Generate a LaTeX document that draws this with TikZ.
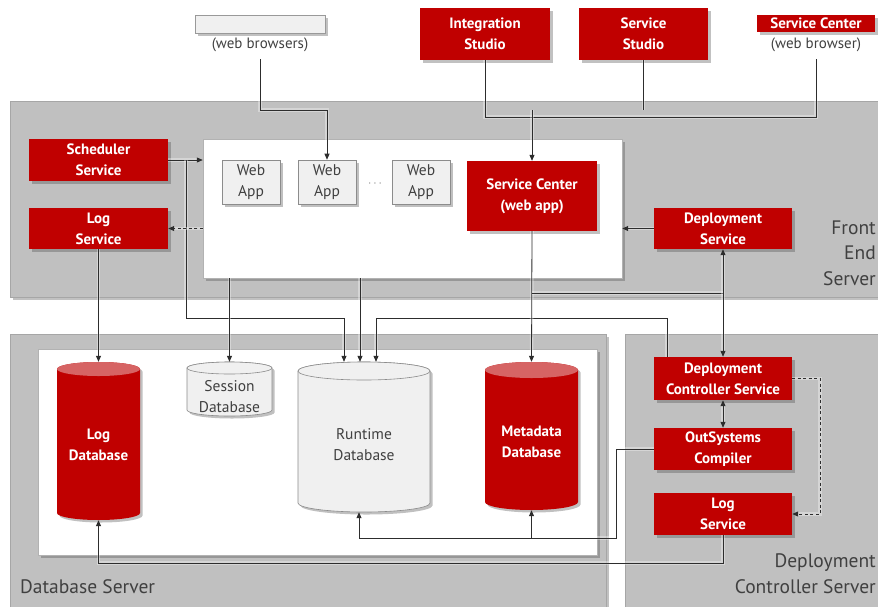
\documentclass[tikz,border=0pt]{standalone}
\usepackage{fontspec}
\setmainfont{PT Sans}
\usetikzlibrary{shadows,arrows.meta}
\definecolor{osred}{RGB}{192,0,0}
\definecolor{panelgray}{RGB}{192,192,192}
\definecolor{lightbox}{RGB}{240,240,240}
\definecolor{cyltop}{RGB}{214,100,100}
\definecolor{linecol}{RGB}{45,45,45}
\begin{document}
\begin{tikzpicture}[x=1pt,y=-1pt,
  shad/.style={drop shadow={shadow xshift=2.5pt,shadow yshift=-2.5pt,opacity=0.35,fill=black!70}},
  redfont/.style={font=\bfseries\fontsize{15}{21}\selectfont},
  redbox/.style={fill=osred,text=white,redfont,align=center,inner sep=0pt,shad},
  panel/.style={fill=panelgray,draw=black!35,line width=0.6pt,shad},
  whitebox/.style={fill=white,draw=black!30,line width=0.5pt,shad},
  graytext/.style={text=black!75,font=\fontsize{15.5}{21}\selectfont,align=center,inner sep=0pt},
  appbox/.style={fill=lightbox,draw=black!45,line width=0.6pt,shad,graytext,minimum width=58pt,minimum height=44pt},
  cylnode/.style={inner sep=0pt},
  cyltext/.style={inner sep=0pt,align=center},
  panellabel/.style={text=black!75,font=\fontsize{19.5}{25.5}\selectfont,inner sep=0pt},
  smalllabel/.style={text=black!75,font=\fontsize{15}{15}\selectfont,inner sep=0pt},
  conn/.style={draw=linecol,line width=0.8pt,preaction={draw=white,line width=3.5pt,opacity=0.35}},
  arr/.style={conn,-{Triangle[length=6pt,width=5pt]}},
  darr/.style={conn,{Triangle[length=6pt,width=5pt]}-{Triangle[length=6pt,width=5pt]}},
  dashy/.style={dashed,dash pattern=on 3pt off 2.5pt}
]
\useasboundingbox (0,0) rectangle (878,606);

% panels
\path[panel] (10,101) rectangle (884,297);
\path[panel] (10,334) rectangle (606,612);
\path[panel] (625,334) rectangle (884,612);
\path[whitebox] (203,139) rectangle (622,278);
\path[whitebox] (38,349) rectangle (597,555);
\node[inner sep=0pt,minimum width=419pt,minimum height=139pt] (febox) at (412.5,208.5) {};

% panel labels
\node[panellabel,anchor=east,align=right] (felabel) at (876,253) {Front\\End\\Server};
\node[panellabel,anchor=west] (dblabel) at (20,587) {Database Server};
\node[panellabel,anchor=east,align=right] (dclabel) at (876,573.5) {Deployment\\Controller Server};

% top clients
\node[fill=lightbox,draw=black!40,line width=0.6pt,shad,minimum width=130pt,minimum height=18pt,inner sep=0pt] (browsers) at (260,24) {};
\node[smalllabel] (wbl) at (260,45) {(web browsers)};
\node[redbox,minimum width=130pt,minimum height=52pt] (intst) at (485,34) {Integration\\Studio};
\node[redbox,minimum width=129pt,minimum height=52pt] (svst) at (643.5,34) {Service\\Studio};
\node[redbox,minimum width=118pt,minimum height=17pt] (scbrowser) at (816,23.5) {Service Center};
\node[smalllabel] (scbl) at (816,45) {(web browser)};

% front end nodes
\node[redbox,minimum width=139pt,minimum height=42pt] (sched) at (98.5,160) {Scheduler\\Service};
\node[redbox,minimum width=139pt,minimum height=41pt] (flog) at (98.5,228.5) {Log\\Service};
\node[appbox] (wa1) at (251,182) {Web\\App};
\node[appbox] (wa2) at (327,182) {Web\\App};
\node[appbox] (wa3) at (421,182) {Web\\App};
\node[text=black!50,inner sep=0pt,font=\fontsize{12}{12}\selectfont] (dots) at (375,184) {$\cdots$};
\node[redbox,minimum width=130pt,minimum height=70pt] (scweb) at (532,196) {Service Center\\(web app)};
\node[redbox,minimum width=138pt,minimum height=41pt] (dsvc) at (723,228.5) {Deployment\\Service};

% cylinders
% Log Database
\path[fill=osred,shad] (57,369) -- (57,513) arc[start angle=180,end angle=360,x radius=41.5pt,y radius=7pt] -- (140,369) arc[start angle=0,end angle=180,x radius=41.5pt,y radius=7pt] -- cycle;
\fill[cyltop] (98.5,369) ellipse[x radius=41.5pt,y radius=7pt];
\node[cylnode,minimum width=83pt,minimum height=158pt] (logdb) at (98.5,441) {};
\node[cyltext,text=white,redfont] (logdbtxt) at (98.5,445) {Log\\Database};
% Session Database
\path[fill=lightbox,draw=black!45,line width=0.6pt,shad] (187,368) -- (187,410) arc[start angle=180,end angle=360,x radius=42.5pt,y radius=6pt] -- (272,368) arc[start angle=0,end angle=180,x radius=42.5pt,y radius=6pt] -- cycle;
\draw[fill=lightbox,draw=black!45,line width=0.6pt] (229.5,368) ellipse[x radius=42.5pt,y radius=6pt];
\node[cylnode,minimum width=85pt,minimum height=54pt] (sessdb) at (229.5,389) {};
\node[cyltext,graytext] (sessdbtxt) at (229.5,396.5) {Session\\Database};
% Runtime Database
\path[fill=lightbox,draw=black!45,line width=0.6pt,shad] (298,371) -- (298,503) arc[start angle=180,end angle=360,x radius=66pt,y radius=9pt] -- (430,371) arc[start angle=0,end angle=180,x radius=66pt,y radius=9pt] -- cycle;
\draw[fill=lightbox,draw=black!45,line width=0.6pt] (364,371) ellipse[x radius=66pt,y radius=9pt];
\node[cylnode,minimum width=132pt,minimum height=150pt] (rtdb) at (364,437) {};
\node[cyltext,graytext] (rtdbtxt) at (364,445) {Runtime\\Database};
% Metadata Database
\path[fill=osred,shad] (485,370) -- (485,502) arc[start angle=180,end angle=360,x radius=46.5pt,y radius=8pt] -- (578,370) arc[start angle=0,end angle=180,x radius=46.5pt,y radius=8pt] -- cycle;
\fill[cyltop] (531.5,370) ellipse[x radius=46.5pt,y radius=8pt];
\node[cylnode,minimum width=93pt,minimum height=148pt] (mddb) at (531.5,436) {};
\node[cyltext,text=white,redfont] (mddbtxt) at (531.5,441.5) {Metadata\\Database};

% deployment controller nodes
\node[redbox,minimum width=138pt,minimum height=43pt] (dcs) at (723,378.5) {Deployment\\Controller Service};
\node[redbox,minimum width=138pt,minimum height=42pt] (osc) at (723,449) {OutSystems\\Compiler};
\node[redbox,minimum width=138pt,minimum height=42pt] (logdc) at (723,514) {Log\\Service};

% helper coordinates
\coordinate (busA) at (0,110);
\coordinate (busB) at (0,318);
\coordinate (busC) at (0,293);
\coordinate (busD) at (616,538);
\coordinate (busE) at (0,563);

% connectors
\draw[arr] ([yshift=-7pt]wbl.south) |- (wa2.north |- busA) -- (wa2.north);
\draw[conn] (intst.south) |- ([yshift=-7pt]scbl.south |- busA) -- ([yshift=-7pt]scbl.south);
\draw[conn] (svst.south) -- (svst.south |- busA);
\draw[arr] (scweb.north |- busA) -- (scweb.north);

\draw[arr] (sched.east) -- (sched.east -| febox.west);
\draw[arr] (sched.east) ++(18,0) |- ([xshift=-20pt]rtdb.north |- busB) -- ([xshift=-20pt]rtdb.north);
\draw[arr,dashy] (febox.west |- flog.east) -- (flog.east);
\draw[arr] (flog.south) -- (logdb.north);
\draw[arr] (sessdb.north |- febox.south) -- (sessdb.north);
\draw[arr] ([xshift=-4pt]rtdb.north |- febox.south) -- ([xshift=-4pt]rtdb.north);
\draw[arr] ([xshift=-56pt]dcs.north) |- ([xshift=12pt]rtdb.north |- busB) -- ([xshift=12pt]rtdb.north);

\draw[arr] (scweb.south) -- (mddb.north);
\draw[conn] (scweb.south |- busC) -- (dsvc.south |- busC);
\draw[darr] (dsvc.south) -- (dcs.north);
\draw[arr] (dsvc.west) -- (dsvc.west -| febox.east);

\draw[darr] (dcs.south) -- (osc.north);
\draw[arr,dashy] (dcs.east) -- ++(28,0) |- (logdc.east);
\draw[arr] (osc.west) -| (busD) -| ([xshift=-5pt]rtdb.south);
\draw[arr] (mddb.south |- busD) -- (mddb.south);
\draw[arr] (logdc.south) |- (logdb.south |- busE) -- (logdb.south);
\end{tikzpicture}
\end{document}
